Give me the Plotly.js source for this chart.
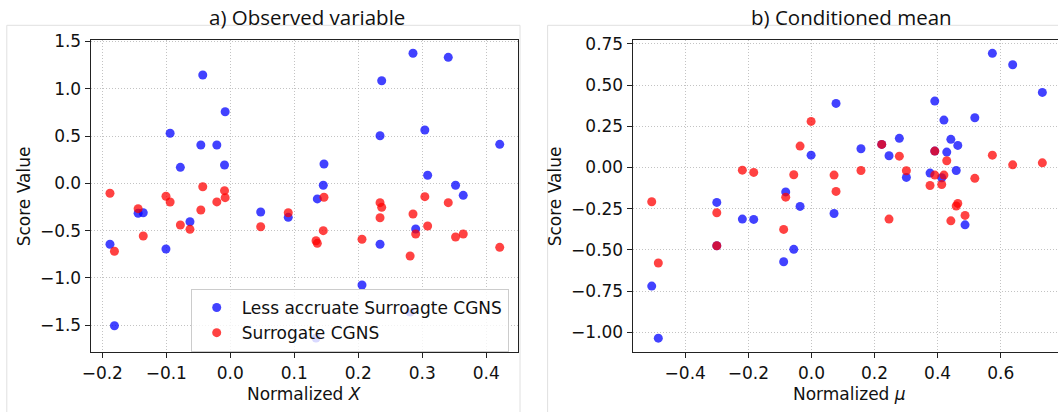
<!DOCTYPE html>
<html>
<head>
<meta charset="utf-8">
<script src="https://cdn.plot.ly/plotly-3.0.1.min.js"></script>
<style>
  html, body { margin: 0; padding: 0; background: #fff; overflow: hidden; }
  #chart { width: 1060px; height: 412px; }
</style>
</head>
<body>
<div id="chart"></div>
<script>
// ---------- Data: panel a) Observed variable ----------
const obsX = [-0.188, -0.181, -0.144, -0.136, -0.1005, -0.094, -0.078, -0.063, -0.046, -0.043,
              -0.021, -0.009, -0.008, 0.0475, 0.0906, 0.134, 0.136, 0.1453, 0.1464, 0.2058,
              0.234, 0.234, 0.2366, 0.281, 0.2855, 0.2897, 0.304, 0.3084, 0.3406, 0.352, 0.364, 0.421];
const obsLessAccurate = [-0.645, -1.506, -0.317, -0.311, -0.695, 0.529, 0.169, -0.406, 0.405, 1.145,
              0.405, 0.193, 0.757, -0.303, -0.360, -1.636, -0.165, -0.021, 0.204, -1.075,
              0.503, -0.645, 1.085, -1.361, 1.375, -0.483, 0.564, 0.085, 1.332, -0.021, -0.127, 0.412];
const obsSurrogate = [-0.105, -0.719, -0.268, -0.557, -0.137, -0.198, -0.441, -0.487, -0.282, -0.036,
              -0.197, -0.078, -0.152, -0.459, -0.311, -0.607, -0.635, -0.501, -0.148, -0.592,
              -0.205, -0.364, -0.254, -0.769, -0.325, -0.536, -0.141, -0.452, -0.205, -0.568, -0.536, -0.677];

// ---------- Data: panel b) Conditioned mean ----------
const muX = [-0.5063, -0.4854, -0.300, -0.300, -0.219, -0.183, -0.088, -0.0815, -0.056, -0.036,
             -0.001, 0.0717, 0.078, 0.157, 0.2229, 0.246, 0.2787, 0.301, 0.376, 0.391,
             0.391, 0.413, 0.420, 0.429, 0.442, 0.459, 0.464, 0.487, 0.518, 0.5736, 0.638, 0.732];
const muLessAccurate = [-0.720, -1.036, -0.475, -0.212, -0.313, -0.315, -0.572, -0.148, -0.497, -0.236,
             0.075, -0.279, 0.389, 0.114, 0.140, 0.071, 0.177, -0.060, -0.034, 0.403,
             0.0996, -0.062, 0.288, 0.0935, 0.171, -0.018, 0.134, -0.348, 0.302, 0.693, 0.624, 0.456];
const muSurrogate = [-0.208, -0.580, -0.475, -0.275, -0.016, -0.030, -0.376, -0.180, -0.044, 0.130,
             0.280, -0.046, -0.145, -0.018, 0.140, -0.313, 0.069, -0.020, -0.109, -0.046,
             0.0996, -0.103, -0.046, 0.041, -0.324, -0.234, -0.218, -0.291, -0.066, 0.075, 0.016, 0.0285];

// ---------- Tick labels ----------
const obsXTicks = [-0.2, -0.1, 0.0, 0.1, 0.2, 0.3, 0.4];
const obsYTicks = [-1.5, -1.0, -0.5, 0.0, 0.5, 1.0, 1.5];
const muXTicks = [-0.4, -0.2, 0.0, 0.2, 0.4, 0.6];
const muYTicks = [-1.0, -0.75, -0.5, -0.25, 0.0, 0.25, 0.5, 0.75];

const seriesNames = ['Less accruate Surroagte CGNS', 'Surrogate CGNS'];
const panelTitles = ['a) Observed variable', 'b) Conditioned mean'];

// ---------- Layout helpers (pixel -> paper) ----------
const W = 1060, H = 412;
const px = v => v / W;
const py = v => 1 - v / H;

const BLUE = 'rgba(0,0,255,0.74)';
const RED = 'rgba(255,0,0,0.74)';
const MSIZE = 9;
const FS = 17;
const tickFont = { family: 'DejaVu Sans', size: FS, color: '#111' };

function sc(x, y, name, color, xa, ya, show) {
  return {
    type: 'scatter', mode: 'markers', x: x, y: y, name: name,
    xaxis: xa, yaxis: ya, showlegend: show,
    marker: { color: color, size: MSIZE, line: { width: 0 } },
    hoverinfo: 'x+y'
  };
}

const traces = [
  sc(obsX, obsLessAccurate, seriesNames[0], BLUE, 'x', 'y', true),
  sc(obsX, obsSurrogate, seriesNames[1], RED, 'x', 'y', true),
  sc(muX, muLessAccurate, seriesNames[0], BLUE, 'x2', 'y2', false),
  sc(muX, muSurrogate, seriesNames[1], RED, 'x2', 'y2', false)
];

function axis(domain, range, tickvals, fmt, anchor) {
  return {
    domain: domain, range: range, anchor: anchor,
    tickmode: 'array', tickvals: tickvals, tickformat: fmt,
    ticks: 'outside', ticklen: 5, tickwidth: 1, tickcolor: '#222',
    showline: true, linecolor: '#222', linewidth: 1.1, mirror: true,
    showgrid: true, gridcolor: 'rgba(180,180,180,0.8)', griddash: '1px,2px', gridwidth: 1,
    zeroline: false, tickfont: tickFont, fixedrange: true
  };
}

const yDom = [py(352.3), py(39.7)];

const layout = {
  width: W, height: H,
  margin: { l: 0, r: 0, t: 0, b: 0, pad: 0 },
  paper_bgcolor: '#fff', plot_bgcolor: '#fff',
  font: { family: 'DejaVu Sans', color: '#111' },
  xaxis: axis([px(90.7), px(517.7)], [-0.2181, 0.4491], obsXTicks, '.1f', 'y'),
  yaxis: axis(yDom, [-1.787, 1.5185], obsYTicks, '.1f', 'x'),
  xaxis2: axis([px(632.7), 1.0], [-0.5666, 0.788], muXTicks, '.1f', 'y2'),
  yaxis2: axis(yDom, [-1.1218, 0.7758], muYTicks, '.2f', 'x2'),
  showlegend: true,
  legend: {
    x: px(190.7), y: py(289), xanchor: 'left', yanchor: 'top',
    bgcolor: 'rgba(255,255,255,0.8)', bordercolor: '#cccccc', borderwidth: 1,
    font: { family: 'DejaVu Sans', size: FS, color: '#111' },
    itemwidth: 40, tracegroupgap: 0
  },
  shapes: [
    { type: 'rect', xref: 'paper', yref: 'paper', x0: px(6.8), x1: px(520), y0: -0.05, y1: py(25.3),
      line: { color: '#e0e0e0', width: 1 }, layer: 'below' },
    { type: 'rect', xref: 'paper', yref: 'paper', x0: px(547.6), x1: 1.05, y0: -0.05, y1: py(25.3),
      line: { color: '#e0e0e0', width: 1 }, layer: 'below' }
  ],
  annotations: [
    { text: panelTitles[0], xref: 'paper', yref: 'paper', x: px(306.6), y: py(16.5),
      xanchor: 'center', yanchor: 'middle', showarrow: false,
      font: { family: 'Open Sans', size: 20.5, color: '#111' } },
    { text: panelTitles[1], xref: 'paper', yref: 'paper', x: px(851), y: py(16.5),
      xanchor: 'center', yanchor: 'middle', showarrow: false,
      font: { family: 'Open Sans', size: 20.5, color: '#111' } },
    { text: 'Normalized <i>X</i>', xref: 'paper', yref: 'paper', x: px(304), y: py(394),
      xanchor: 'center', yanchor: 'middle', showarrow: false,
      font: { family: 'DejaVu Sans', size: FS, color: '#111' } },
    { text: 'Normalized <i>μ</i>', xref: 'paper', yref: 'paper', x: px(849), y: py(394),
      xanchor: 'center', yanchor: 'middle', showarrow: false,
      font: { family: 'DejaVu Sans', size: FS, color: '#111' } },
    { text: 'Score Value', xref: 'paper', yref: 'paper', x: px(24.3), y: py(196),
      xanchor: 'center', yanchor: 'middle', showarrow: false, textangle: -90,
      font: { family: 'DejaVu Sans', size: FS, color: '#111' } },
    { text: 'Score Value', xref: 'paper', yref: 'paper', x: px(555.3), y: py(196),
      xanchor: 'center', yanchor: 'middle', showarrow: false, textangle: -90,
      font: { family: 'DejaVu Sans', size: FS, color: '#111' } }
  ]
};

Plotly.newPlot('chart', traces, layout, { staticPlot: true, displayModeBar: false });
</script>
</body>
</html>
